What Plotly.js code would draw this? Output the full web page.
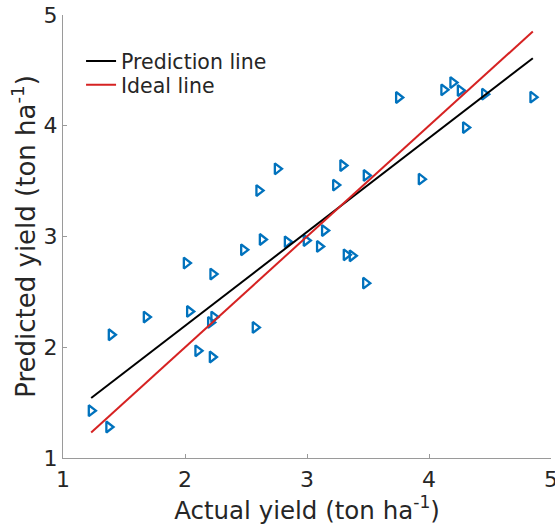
<!DOCTYPE html>
<html>
<head>
<meta charset="utf-8">
<script src="https://cdn.plot.ly/plotly-3.0.1.min.js"></script>
<style>html,body{margin:0;padding:0;background:#fff;}#chart{width:555px;height:525px;}</style>
</head>
<body>
<div id="chart"></div>
<script>
// Observed data (actual vs predicted yield, ton/ha)
var actualYield = [1.231, 1.375, 1.395, 1.682, 2.010, 2.037, 2.105, 2.209, 2.236, 2.223, 2.228, 2.480,
  2.575, 2.605, 2.633, 2.756, 2.838, 2.993, 3.102, 3.143, 3.234, 3.293, 3.321, 3.370, 3.485, 3.480,
  3.750, 3.936, 4.121, 4.195, 4.256, 4.299, 4.455, 4.851];
var predictedYield = [1.427, 1.280, 2.113, 2.273, 2.760, 2.323, 1.968, 2.224, 2.273, 1.912, 2.661, 2.880,
  2.179, 3.415, 2.973, 3.611, 2.952, 2.964, 2.910, 3.054, 3.464, 3.641, 2.835, 2.826, 3.551, 2.579,
  4.255, 3.518, 4.324, 4.390, 4.318, 3.984, 4.285, 4.258];

// Line endpoints
var predLineX = [1.231, 4.851];
var predLineY = [1.542, 4.610];
var idealLineX = [1.231, 4.851];
var idealLineY = [1.231, 4.851];

var tickVals = [1, 2, 3, 4, 5];
var tickText = ['1', '2', '3', '4', '5'];

var font = 'DejaVu Sans, sans-serif';
var textColor = '#262626';
var axisColor = '#9a9a9a';

var traces = [
  {
    x: actualYield, y: predictedYield, type: 'scatter', mode: 'markers',
    showlegend: false,
    marker: {symbol: 'triangle-right-open', size: 9.5, color: '#0072BD',
             line: {width: 2.3, color: '#0072BD'}}
  },
  {
    x: predLineX, y: predLineY, type: 'scatter', mode: 'lines', legend: 'legend',
    name: 'Prediction line', line: {color: '#000000', width: 2}
  },
  {
    x: idealLineX, y: idealLineY, type: 'scatter', mode: 'lines', legend: 'legend2',
    name: 'Ideal line', line: {color: '#d62222', width: 2}
  }
];

function legendAt(yPaper) {
  return {x: 0.037, y: yPaper, xanchor: 'left', yanchor: 'middle',
          bgcolor: 'rgba(0,0,0,0)', borderwidth: 0,
          font: {family: font, size: 20.5, color: textColor},
          itemwidth: 30};
}

var layout = {
  width: 555, height: 525,
  margin: {l: 63, r: 4, t: 15, b: 67, pad: 0},
  paper_bgcolor: '#ffffff', plot_bgcolor: '#ffffff',
  font: {family: font, color: textColor},
  showlegend: true,
  legend: legendAt(0.8956),
  legend2: legendAt(0.8424),
  xaxis: {
    range: [1, 5], tickvals: tickVals, ticktext: tickText,
    showgrid: false, zeroline: false, showline: true, linecolor: axisColor, linewidth: 1,
    ticks: 'inside', ticklen: 4, tickcolor: axisColor, tickwidth: 1,
    tickfont: {family: font, size: 22, color: textColor},
    ticklabeloverflow: 'allow', ticklabelstandoff: 2,
    title: {text: 'Actual yield (ton ha<sup>-1</sup>)', font: {family: font, size: 24.5, color: textColor}, standoff: 3},
    automargin: false, mirror: false
  },
  yaxis: {
    range: [1, 5], tickvals: tickVals, ticktext: tickText,
    showgrid: false, zeroline: false, showline: true, linecolor: axisColor, linewidth: 1,
    ticks: 'inside', ticklen: 4, tickcolor: axisColor, tickwidth: 1,
    tickfont: {family: font, size: 22, color: textColor},
    ticklabeloverflow: 'allow',
    title: {text: 'Predicted yield (ton ha<sup>-1</sup>)', font: {family: font, size: 26, color: textColor}, standoff: 0},
    automargin: false, mirror: false
  }
};

Plotly.newPlot('chart', traces, layout, {displayModeBar: false, staticPlot: true});
</script>
</body>
</html>
